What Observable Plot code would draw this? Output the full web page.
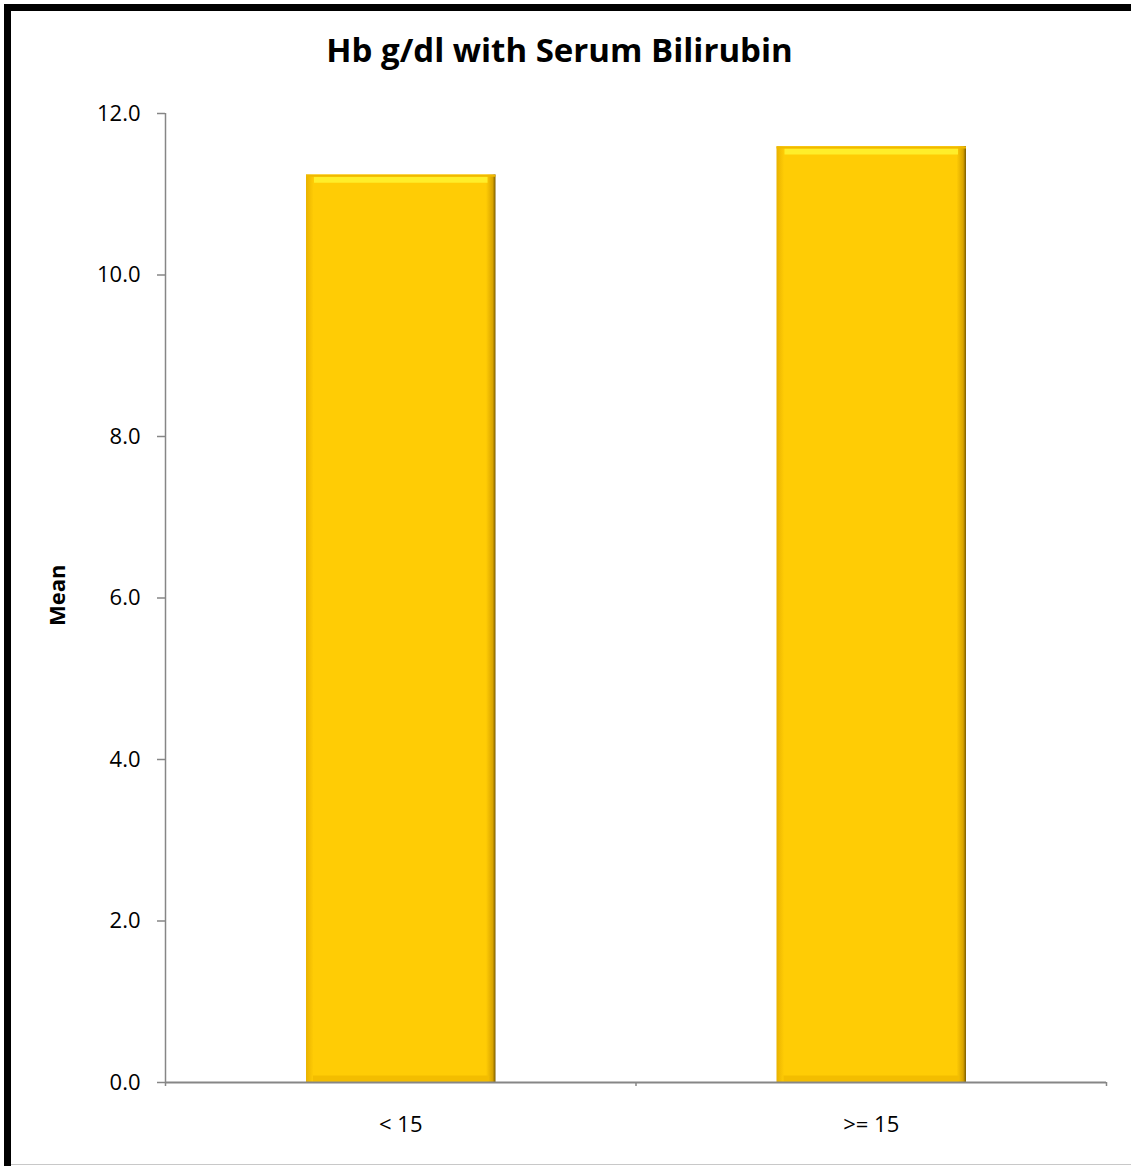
<!DOCTYPE html>
<html>
<head>
<meta charset="utf-8">
<script src="https://cdn.jsdelivr.net/npm/d3@7"></script>
<script src="https://cdn.jsdelivr.net/npm/@observablehq/plot@0.6"></script>
<style>
  html, body { margin: 0; padding: 0; background: #fff; }
  #chart {
    position: relative;
    width: 1131px;
    height: 1166px;
    background: #fff;
    font-family: "Open Sans", "Noto Sans", sans-serif;
    overflow: hidden;
  }
  /* outer frame: heavy black rule on the left and top, faint grey at the bottom */
  #frame-left { position: absolute; left: 4px; top: 4px; width: 7px; bottom: 0; background: #000; }
  #frame-top { position: absolute; left: 4px; top: 4px; right: 0; height: 7px; background: #000; }
  #frame-bottom { position: absolute; left: 11px; right: 0; bottom: 1px; height: 1px; background: #c8c8c8; }
  #title {
    position: absolute;
    left: 0; width: 1131px; top: 30px;
    text-align: center;
    font-weight: 700;
    font-size: 33px;
    line-height: 40px;
    color: #000;
    transform: translateX(-6px);
  }
  #plot { position: absolute; left: 0; top: 90px; }
</style>
</head>
<body>
<div id="chart">
  <div id="frame-left"></div>
  <div id="frame-top"></div>
  <div id="frame-bottom"></div>
  <div id="title">Hb g/dl with Serum Bilirubin</div>
  <div id="plot"></div>
</div>
<script>
// Serum bilirubin groups and mean haemoglobin (g/dl) in each
const categories = ["< 15", ">= 15"];
const meanHb = [11.24, 11.59];
const yTicks = [0, 2, 4, 6, 8, 10, 12];

const data = categories.map((c, i) => ({category: c, index: i, value: meanHb[i]}));

const axisGrey = "#868686";

// gradients and shadow used by the bevelled bars
function defs() {
  const ns = "http://www.w3.org/2000/svg";
  const d = document.createElementNS(ns, "defs");
  d.innerHTML = `
    <linearGradient id="barFill" x1="0" x2="1" y1="0" y2="0">
      <stop offset="0" stop-color="#E9B200"/>
      <stop offset="0.04" stop-color="#FFCC05"/>
      <stop offset="0.95" stop-color="#FFCC05"/>
      <stop offset="0.985" stop-color="#D9A400"/>
      <stop offset="1" stop-color="#7A5C00"/>
    </linearGradient>
    <filter id="barShadow" x="-5%" y="-5%" width="110%" height="110%">
      <feDropShadow dx="0" dy="1" stdDeviation="2" flood-color="#000" flood-opacity="0.18"/>
    </filter>`;
  return d;
}

const barX1 = d => d.index;
const barX2 = d => d.index + 1;

const plot = Plot.plot({
  width: 1131,
  height: 1076,
  marginTop: 23,
  marginBottom: 84,
  marginLeft: 165,
  marginRight: 25,
  style: {fontFamily: "'Open Sans', 'Noto Sans', sans-serif", fontSize: "22px", color: "#000", background: "transparent"},
  x: {domain: [0, categories.length], axis: null},
  y: {domain: [0, 12], axis: null},
  marks: [
    defs,
    // bars, one per bilirubin group
    Plot.rectY(data, {
      x1: barX1,
      x2: barX2,
      y: "value",
      insetLeft: 141,
      insetRight: 140,
      fill: "url(#barFill)",
      ariaLabel: "bars"
    }),
    // bevel highlight along the top of each bar
    Plot.ruleY(data, {
      x1: barX1,
      x2: barX2,
      y: "value",
      dy: 5,
      insetLeft: 149,
      insetRight: 148,
      stroke: "#FFEE2A",
      strokeWidth: 6
    }),
    Plot.ruleY(data, {
      x1: barX1,
      x2: barX2,
      y: "value",
      dy: 1,
      insetLeft: 141,
      insetRight: 140,
      stroke: "#F0B900",
      strokeWidth: 2
    }),
    // darker bevel along the bottom
    Plot.ruleY(data, {
      x1: barX1,
      x2: barX2,
      y: () => 0,
      dy: -4,
      insetLeft: 148,
      insetRight: 147,
      stroke: "#F3BD00",
      strokeWidth: 6
    }),
    // y axis: line, ticks and one-decimal labels
    Plot.ruleX([0], {y1: 0, y2: 12, stroke: axisGrey, strokeWidth: 1.5}),
    Plot.axisY(yTicks, {
      anchor: "left",
      tickSize: 8,
      tickPadding: 17,
      stroke: axisGrey,
      strokeWidth: 1.5,
      tickFormat: d3.format(".1f"),
      fontSize: 22,
      fill: "#000",
      label: null
    }),
    Plot.text(["Mean"], {
      frameAnchor: "left",
      dx: -108,
      dy: 28,
      rotate: -90,
      fontWeight: "bold",
      fontSize: 22,
      fill: "#000"
    }),
    // x axis: baseline, boundary ticks between groups, category labels
    Plot.ruleY([0], {stroke: axisGrey, strokeWidth: 2}),
    Plot.ruleX(d3.range(categories.length + 1), {
      x: d => d,
      y: 0,
      dy: 4,
      stroke: axisGrey,
      strokeWidth: 1.5,
      insetTop: -4,
      insetBottom: 0
    }),
    Plot.text(data, {
      x: d => d.index + 0.5,
      y: () => 0,
      text: "category",
      dy: 42,
      fontSize: 22,
      fill: "#000"
    })
  ]
});

d3.select(plot).select('g[aria-label="bars"]').attr("filter", "url(#barShadow)");
document.getElementById("plot").appendChild(plot);
</script>
</body>
</html>
